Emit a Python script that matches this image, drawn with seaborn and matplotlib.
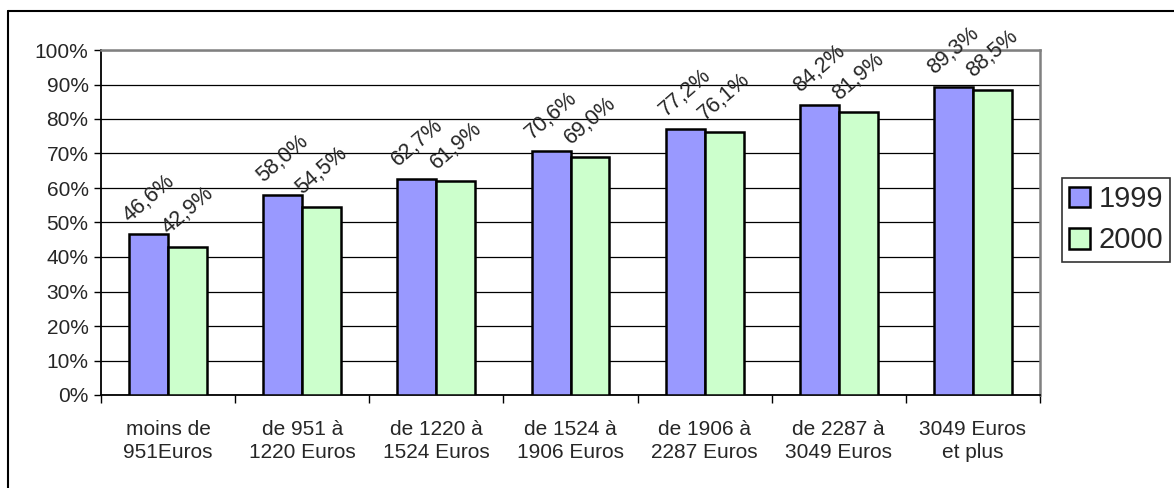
import matplotlib
matplotlib.use("Agg")
import matplotlib.pyplot as plt
import matplotlib.patches as mpatches
from matplotlib.ticker import PercentFormatter, MultipleLocator, FixedLocator
import seaborn as sns
import pandas as pd

categories = ["moins de\n951Euros", "de 951 à\n1220 Euros", "de 1220 à\n1524 Euros",
              "de 1524 à\n1906 Euros", "de 1906 à\n2287 Euros", "de 2287 à\n3049 Euros",
              "3049 Euros\net plus"]
years = ["1999", "2000"]
values_1999 = [46.6, 58.0, 62.7, 70.6, 77.2, 84.2, 89.3]
values_2000 = [42.9, 54.5, 61.9, 69.0, 76.1, 81.9, 88.5]
colors = ["#9999FF", "#CCFFCC"]

rows = []
for yr, vals in zip(years, [values_1999, values_2000]):
    for c, v in zip(categories, vals):
        rows.append({"cat": c, "year": yr, "val": v / 100.0})
df = pd.DataFrame(rows)

sns.set_style("white")
plt.rcParams["font.family"] = ["Liberation Sans", "DejaVu Sans"]

W, H = 1174, 488
fig = plt.figure(figsize=(W / 100, H / 100), dpi=100)
ax = fig.add_axes([101 / W, 1 - 395 / H, (1040 - 101) / W, (395 - 50) / H])

sns.barplot(data=df, x="cat", y="val", hue="year", palette=colors, width=0.58,
            saturation=1, edgecolor="black", linewidth=1.8, ax=ax, legend=False,
            zorder=3)

ax.set_ylim(0, 1)
ax.set_xlim(-0.5, len(categories) - 0.5)
ax.yaxis.set_major_locator(MultipleLocator(0.1))
ax.yaxis.set_major_formatter(PercentFormatter(1.0, decimals=0))
ax.grid(axis="y", color="black", linewidth=0.9, zorder=0)
ax.set_axisbelow(True)
ax.set_xlabel("")
ax.set_ylabel("")

ax.tick_params(axis="y", which="major", direction="out", length=5, width=1,
               color="black", labelsize=15, pad=4, left=True)
ax.tick_params(axis="x", which="major", length=0, labelsize=15, pad=18)
for lab in ax.get_xticklabels():
    lab.set_linespacing(1.3)
ax.xaxis.set_minor_locator(FixedLocator([i + 0.5 for i in range(-1, len(categories))]))
ax.tick_params(axis="x", which="minor", direction="out", length=6, width=1,
               color="black", bottom=True)

for s in ["left", "bottom"]:
    ax.spines[s].set_color("black")
    ax.spines[s].set_linewidth(1.3)
for s in ["top", "right"]:
    ax.spines[s].set_color("#808080")
    ax.spines[s].set_linewidth(1.8)

# value labels
for container, vals in zip(ax.containers, [values_1999, values_2000]):
    for bar, v in zip(container, vals):
        xc = bar.get_x() + bar.get_width() / 2
        ax.annotate(f"{v:.1f}".replace(".", ",") + "%", xy=(xc, bar.get_height()),
                    xytext=(0, 26), textcoords="offset points", ha="center",
                    va="center", rotation=41, fontsize=15.5, zorder=5,
                    annotation_clip=False)

# legend
handles = [mpatches.Patch(facecolor=c, edgecolor="black", linewidth=1.8, label=y)
           for c, y in zip(colors, years)]
leg = fig.legend(handles=handles, loc="upper left",
                 bbox_to_anchor=(1062 / W, 1 - 178 / H), fontsize=21,
                 frameon=True, fancybox=False, handlelength=0.72, handleheight=0.72,
                 handletextpad=0.28, borderpad=0.25, labelspacing=0.45,
                 borderaxespad=0)
leg.get_frame().set_edgecolor("black")
leg.get_frame().set_linewidth(1.2)

# outer chart border
fig.add_artist(plt.Line2D([8 / W, 8 / W], [0, 1 - 11 / H], transform=fig.transFigure,
                          color="black", linewidth=1.5))
fig.add_artist(plt.Line2D([8 / W, 1], [1 - 11 / H, 1 - 11 / H], transform=fig.transFigure,
                          color="black", linewidth=1.5))

fig.savefig("out.png", dpi=100)
